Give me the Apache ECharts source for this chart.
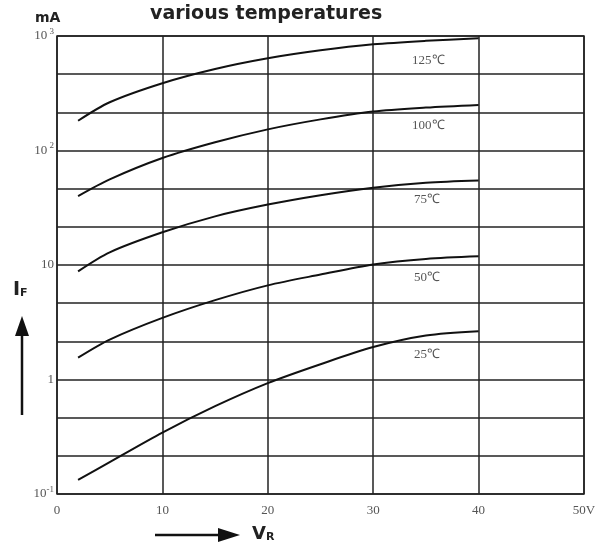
<!DOCTYPE html>
<html>
<head>
<meta charset="utf-8">
<script src="https://cdn.jsdelivr.net/npm/echarts@6/dist/echarts.min.js"></script>
<style>html,body{margin:0;padding:0;background:#fff;}#c{width:607px;height:546px;}</style>
</head>
<body>
<div id="c"></div>
<script>
// Reverse voltage (V)
const voltage = [2, 5, 10, 15, 20, 25, 30, 35, 40];
// Reverse current IF (mA) at various temperatures
const t125 = [182, 264, 387, 515, 639, 750, 846, 908, 955];
const t100 = [40, 56, 86, 118, 153, 187, 219, 237, 250];
const t75 = [8.8, 12.9, 19.3, 26.6, 33.7, 40.7, 47.3, 52.3, 54.7];
const t50 = [1.55, 2.23, 3.45, 4.93, 6.64, 8.25, 10.1, 11.3, 11.9];
const t25 = [0.133, 0.19, 0.344, 0.585, 0.93, 1.36, 1.92, 2.42, 2.64];
const seriesNames = ['125℃', '100℃', '75℃', '50℃', '25℃'];
const xTickLabels = ['0', '10', '20', '30', '40', '50V'];

const allSeries = [t125, t100, t75, t50, t25];
const labelPos = [[430, 62], [430, 127], [432, 201], [432, 279], [432, 356]];

const chart = echarts.init(document.getElementById('c'), null, {renderer: 'canvas'});

function yLabel(v) {
  const r = Math.round(Math.log10(v));
  if (r === 3) return '{b|10}{s| 3}';
  if (r === 2) return '{b|10}{s| 2}';
  if (r === 1) return '{b|10}';
  if (r === 0) return '{b|1}';
  if (r === -1) return '{b|10}{s|-1}';
  return '';
}

const option = {
  animation: false,
  backgroundColor: '#fff',
  grid: {left: 57, right: 23, top: 36, bottom: 52, show: true, borderColor: '#222', borderWidth: 1.5},
  xAxis: {
    type: 'value', min: 0, max: 50, interval: 10,
    axisLine: {show: false}, axisTick: {show: false},
    splitLine: {show: true, lineStyle: {color: '#222', width: 1.5}},
    axisLabel: {
      margin: 10,
      formatter: (v) => xTickLabels[Math.round(v / 10)],
      fontFamily: 'Liberation Serif', fontSize: 13, color: '#555'
    }
  },
  yAxis: [{
    type: 'log', logBase: 10, min: 0.1, max: 1000,
    axisLine: {show: false}, axisTick: {show: false},
    splitLine: {show: false},
    axisLabel: {
      margin: 3,
      formatter: yLabel,
      rich: {
        b: {fontFamily: 'Liberation Serif', fontSize: 13, color: '#555'},
        s: {fontFamily: 'Liberation Serif', fontSize: 9, color: '#555', verticalAlign: 'top', padding: [0, 0, 9, 0]}
      }
    }
  }, {
    type: 'value', min: 0, max: 12, interval: 1, position: 'right',
    axisLine: {show: false}, axisTick: {show: false}, axisLabel: {show: false},
    splitLine: {show: true, lineStyle: {color: '#222', width: 1.5}}
  }],
  series: allSeries.map((arr, i) => ({
    name: seriesNames[i],
    type: 'line',
    yAxisIndex: 0,
    data: voltage.map((v, k) => [v, arr[k]]),
    smooth: 0.3,
    showSymbol: false,
    lineStyle: {color: '#111', width: 2}
  })),
  graphic: [
    ...seriesNames.map((n, i) => ({
      type: 'text', left: labelPos[i][0] - 18, top: labelPos[i][1] - 8,
      style: {text: n, font: '13px "Liberation Serif"', fill: '#555'}
    })),
    {type: 'text', left: 35, top: 11, style: {text: 'mA', font: 'bold 14px "DejaVu Sans"', fill: '#222'}},
    {type: 'text', left: 150, top: 5, style: {text: 'various temperatures', font: 'bold 19px "DejaVu Sans"', fill: '#222'}},
    {type: 'text', left: 13, top: 281, style: {
      text: '{i|I}{f|F}',
      rich: {i: {font: 'bold 19px "DejaVu Sans"', fill: '#222'}, f: {font: 'bold 11px "DejaVu Sans"', fill: '#222', padding: [6, 0, 0, 0]}}
    }},
    {type: 'line', shape: {x1: 22, y1: 415, x2: 22, y2: 332}, style: {stroke: '#111', lineWidth: 2.5}},
    {type: 'polygon', shape: {points: [[22, 316], [15, 336], [29, 336]]}, style: {fill: '#111'}},
    {type: 'line', shape: {x1: 155, y1: 535, x2: 222, y2: 535}, style: {stroke: '#111', lineWidth: 2.5}},
    {type: 'polygon', shape: {points: [[240, 535], [218, 528], [218, 542]]}, style: {fill: '#111'}},
    {type: 'text', left: 252, top: 525, style: {
      text: '{v|V}{r|R}',
      rich: {v: {font: 'bold 18px "DejaVu Sans"', fill: '#222'}, r: {font: 'bold 11px "DejaVu Sans"', fill: '#222', padding: [6, 0, 0, 0]}}
    }}
  ]
};
chart.setOption(option);
</script>
</body>
</html>
